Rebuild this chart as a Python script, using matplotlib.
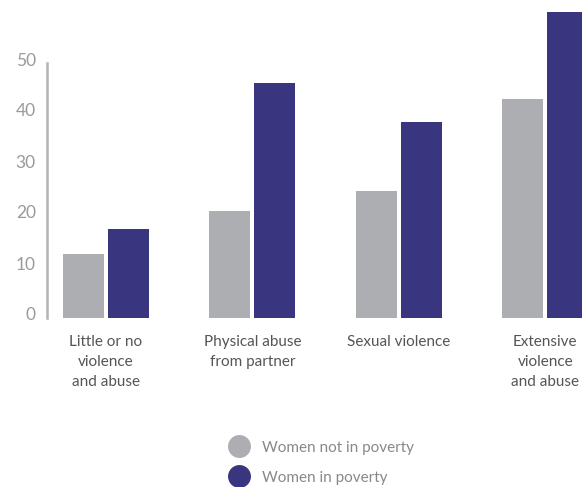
import numpy as np
import matplotlib
matplotlib.use("Agg")
import matplotlib.pyplot as plt
import matplotlib.transforms as mtransforms
from matplotlib.lines import Line2D

categories = ["Little or no\nviolence\nand abuse", "Physical abuse\nfrom partner",
              "Sexual violence", "Extensive\nviolence\nand abuse"]
not_poverty = [12.5, 21.0, 25.0, 43.0]
in_poverty = [17.5, 46.0, 38.5, 60.0]
yticks = [0, 10, 20, 30, 40, 50]

gray = "#adaeb2"
blue = "#3a357f"

plt.rcParams["font.family"] = ["Lato", "DejaVu Sans"]

fig = plt.figure(figsize=(5.82, 4.87), dpi=100)
ax = fig.add_axes([47 / 582, 1 - 318 / 487, 535 / 582, 318 / 487])

x = np.arange(len(categories))
w = 0.28
off = 0.154
ax.bar(x - off, not_poverty, width=w, color=gray)
ax.bar(x + off, in_poverty, width=w, color=blue)

ax.set_xlim(-0.403, 3.251)
ax.set_ylim(0, 318 / 5.1)

for s in ["top", "right", "bottom"]:
    ax.spines[s].set_visible(False)
ax.spines["left"].set_bounds(0, 50)
ax.spines["left"].set_color("#b3b3b8")
ax.spines["left"].set_linewidth(1.8)

ax.set_yticks(yticks)
ax.set_yticklabels([str(t) for t in yticks], fontsize=12.5, color="#9a9a9a")
ax.tick_params(axis="y", length=0, pad=8)
shift = mtransforms.ScaledTranslation(0, 4 / 100, fig.dpi_scale_trans)
for lab in ax.get_yticklabels():
    lab.set_transform(lab.get_transform() + shift)

ax.set_xticks(x)
ax.set_xticklabels(categories, fontsize=11, color="#555555", linespacing=1.55)
ax.tick_params(axis="x", length=0, pad=12)

handles = [Line2D([], [], marker="o", linestyle="", markersize=15.5, color=gray),
           Line2D([], [], marker="o", linestyle="", markersize=15.5, color=blue)]
fig.legend(handles, ["Women not in poverty", "Women in poverty"],
           loc="upper left", bbox_to_anchor=(220 / 582, 1 - 433 / 487),
           frameon=False, fontsize=11, labelcolor="#888888",
           handletextpad=0.75, labelspacing=1.05, borderpad=0, handlelength=1.5)

fig.savefig("out.png", dpi=100)
